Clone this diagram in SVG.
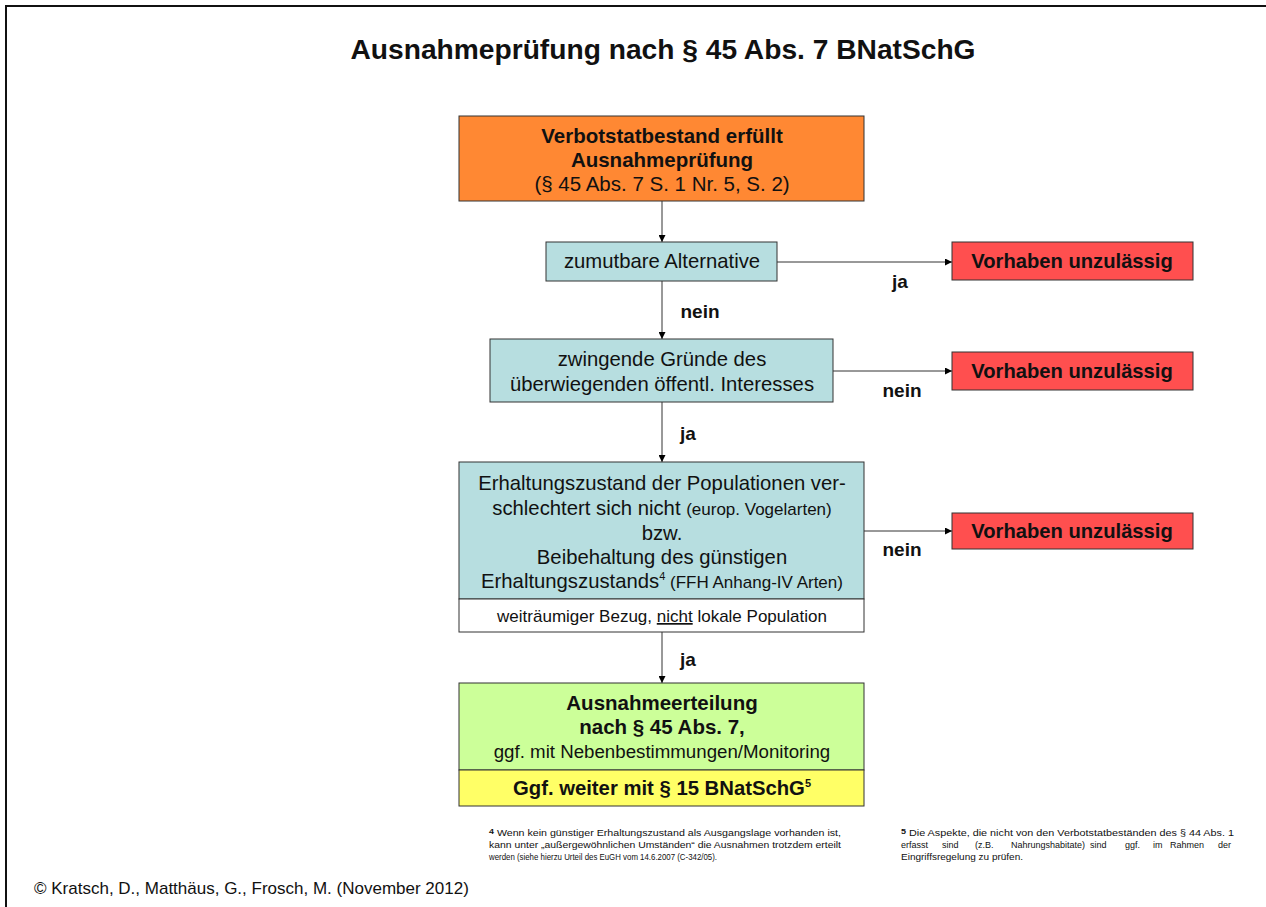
<svg xmlns="http://www.w3.org/2000/svg" width="1266" height="907" viewBox="0 0 1266 907">
<defs>
<marker id="ah" viewBox="0 0 10 10" refX="10" refY="5" markerWidth="7" markerHeight="7" markerUnits="userSpaceOnUse" orient="auto">
<path d="M0,0 L10,5 L0,10 z" fill="#000"/>
</marker>
<style>
text{font-family:"Liberation Sans",Arial,sans-serif;fill:#111}
.b{font-weight:bold}
.c{text-anchor:middle}
.box{stroke:#333;stroke-width:1}
.blue{fill:#B7DEE0}
.red{fill:#FF4F4F}
.conn line{stroke:#333;stroke-width:1;marker-end:url(#ah)}
.fn{font-size:9px}
</style>
</defs>
<rect width="1266" height="907" fill="#fff"/>
<g id="frame">
<line x1="5" y1="6" x2="1266" y2="6" stroke="#111" stroke-width="2"/>
<line x1="6" y1="5" x2="6" y2="907" stroke="#111" stroke-width="2"/>
</g>
<g id="title"><text x="663" y="59" class="b c" font-size="27" textLength="625" lengthAdjust="spacingAndGlyphs">Ausnahmeprüfung nach § 45 Abs. 7 BNatSchG</text></g>

<g class="conn" id="connectors">
<line x1="662" y1="201" x2="662" y2="242"/>
<line x1="662" y1="281" x2="662" y2="339"/>
<line x1="662" y1="402" x2="662" y2="462"/>
<line x1="662" y1="632" x2="662" y2="683"/>
<line x1="777" y1="262" x2="952" y2="262"/>
<line x1="833" y1="371" x2="952" y2="371"/>
<line x1="864" y1="531" x2="952" y2="531"/>
</g>
<g id="labels" class="b" font-size="19">
<text x="900" y="288" class="c">ja</text>
<text x="700" y="318" class="c">nein</text>
<text x="902" y="397" class="c">nein</text>
<text x="688" y="440" class="c">ja</text>
<text x="902" y="556" class="c">nein</text>
<text x="688" y="666" class="c">ja</text>
</g>

<g id="start">
<rect x="459" y="116" width="405" height="85" fill="#FF8833" class="box"/>
<text x="662" y="143" class="b c" font-size="20.5">Verbotstatbestand erfüllt</text>
<text x="662" y="167" class="b c" font-size="20.5">Ausnahmeprüfung</text>
<text x="662" y="191" class="c" font-size="20.5">(§ 45 Abs. 7 S. 1 Nr. 5, S. 2)</text>
</g>
<g id="alternative">
<rect x="546" y="242" width="231" height="39" class="box blue"/>
<text x="662" y="268" class="c" font-size="20.3">zumutbare Alternative</text>
</g>
<g id="gruende">
<rect x="490" y="339" width="343" height="63" class="box blue"/>
<text x="662" y="366" class="c" font-size="20.3">zwingende Gründe des</text>
<text x="662" y="391" class="c" font-size="20.3">überwiegenden öffentl. Interesses</text>
</g>
<g id="erhaltung">
<rect x="459" y="462" width="405" height="137" class="box blue"/>
<rect x="459" y="599" width="405" height="33" class="box" fill="#fff"/>
<text x="662" y="490" class="c" font-size="20.3">Erhaltungszustand der Populationen ver-</text>
<text x="662" y="515" class="c" font-size="20.3">schlechtert sich nicht <tspan font-size="17">(europ. Vogelarten)</tspan></text>
<text x="662" y="540" class="c" font-size="20.3">bzw.</text>
<text x="662" y="564" class="c" font-size="20.3">Beibehaltung des günstigen</text>
<text x="662" y="588" class="c" font-size="20.3">Erhaltungszustands<tspan font-size="11" dy="-8">4</tspan><tspan dy="8" font-size="17"> (FFH Anhang-IV Arten)</tspan></text>
<text x="662" y="622" class="c" font-size="17">weiträumiger Bezug, <tspan text-decoration="underline">nicht</tspan> lokale Population</text>
</g>
<g id="erteilung">
<rect x="459" y="683" width="405" height="87" class="box" fill="#CCFF99"/>
<text x="662" y="710" class="b c" font-size="20.5">Ausnahmeerteilung</text>
<text x="662" y="734" class="b c" font-size="20.5">nach § 45 Abs. 7,</text>
<text x="662" y="758" class="c" font-size="18.7">ggf. mit Nebenbestimmungen/Monitoring</text>
</g>
<g id="weiter">
<rect x="459" y="770" width="405" height="36" fill="#FFFF66" class="box"/>
<text x="662" y="795" class="b c" font-size="20.3">Ggf. weiter mit § 15 BNatSchG<tspan font-size="11" dy="-8">5</tspan></text>
</g>
<g id="unz1">
<rect x="952" y="242" width="241" height="38" class="box red"/>
<text x="1072" y="268" class="b c" font-size="20.2">Vorhaben unzulässig</text>
</g>
<g id="unz2">
<rect x="952" y="352" width="241" height="38" class="box red"/>
<text x="1072" y="378" class="b c" font-size="20.2">Vorhaben unzulässig</text>
</g>
<g id="unz3">
<rect x="952" y="513" width="241" height="36" class="box red"/>
<text x="1072" y="538" class="b c" font-size="20.2">Vorhaben unzulässig</text>
</g>

<g id="footnote4" class="fn">
<text x="489" y="836" textLength="352" lengthAdjust="spacingAndGlyphs"><tspan class="b" font-size="7.5" dy="-2">4</tspan><tspan dy="2"> Wenn kein günstiger Erhaltungszustand als Ausgangslage vorhanden ist,</tspan></text>
<text x="489" y="848" textLength="352" lengthAdjust="spacingAndGlyphs">kann unter „außergewöhnlichen Umständen“ die Ausnahmen trotzdem erteilt</text>
<text x="489" y="860" textLength="228" lengthAdjust="spacingAndGlyphs">werden (siehe hierzu Urteil des EuGH vom 14.6.2007 (C-342/05).</text>
</g>
<g id="footnote5" class="fn">
<text x="901" y="836" textLength="333" lengthAdjust="spacingAndGlyphs"><tspan class="b" font-size="7.5" dy="-2">5</tspan><tspan dy="2"> Die Aspekte, die nicht von den Verbotstatbeständen des § 44 Abs. 1</tspan></text>
<text y="848"><tspan x="901">erfasst</tspan><tspan x="942">sind</tspan><tspan x="975">(z.B.</tspan><tspan x="1011">Nahrungshabitate)</tspan><tspan x="1090">sind</tspan><tspan x="1125">ggf.</tspan><tspan x="1153">im</tspan><tspan x="1170">Rahmen</tspan><tspan x="1218">der</tspan></text>
<text x="901" y="860" textLength="122" lengthAdjust="spacingAndGlyphs">Eingriffsregelung zu prüfen.</text>
</g>
<g id="copyright"><text x="34" y="894" font-size="17">© Kratsch, D., Matthäus, G., Frosch, M. (November 2012)</text></g>
</svg>
